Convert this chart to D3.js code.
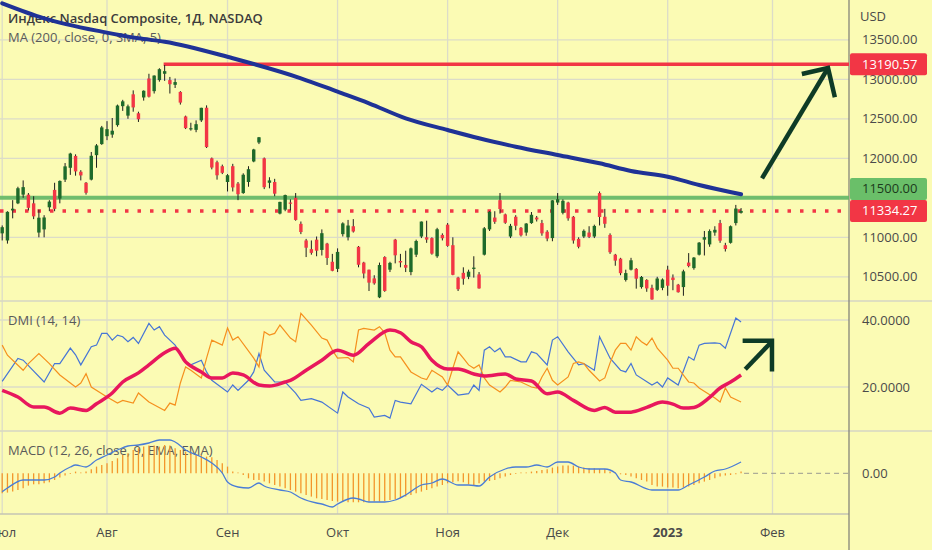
<!DOCTYPE html>
<html>
<head>
<meta charset="utf-8">
<script src="https://cdn.jsdelivr.net/npm/d3@7"></script>
<style>
  body { margin: 0; background: #fbfbb4; }
  svg { display: block; font-family: "Open Sans", "Noto Sans", sans-serif; }
</style>
</head>
<body>
<script>
// Nasdaq Composite daily, Jul 2022 - Jan 2023, with MA200, DMI and MACD panes

const dates = [
  "2022-07-01","2022-07-05","2022-07-06","2022-07-07","2022-07-08","2022-07-11","2022-07-12","2022-07-13","2022-07-14","2022-07-15",
  "2022-07-18","2022-07-19","2022-07-20","2022-07-21","2022-07-22","2022-07-25","2022-07-26","2022-07-27","2022-07-28","2022-07-29",
  "2022-08-01","2022-08-02","2022-08-03","2022-08-04","2022-08-05","2022-08-08","2022-08-09","2022-08-10","2022-08-11","2022-08-12",
  "2022-08-15","2022-08-16","2022-08-17","2022-08-18","2022-08-19","2022-08-22","2022-08-23","2022-08-24","2022-08-25","2022-08-26",
  "2022-08-29","2022-08-30","2022-08-31",
  "2022-09-01","2022-09-02","2022-09-06","2022-09-07","2022-09-08","2022-09-09","2022-09-12","2022-09-13","2022-09-14","2022-09-15",
  "2022-09-16","2022-09-19","2022-09-20","2022-09-21","2022-09-22","2022-09-23","2022-09-26","2022-09-27","2022-09-28","2022-09-29","2022-09-30",
  "2022-10-03","2022-10-04","2022-10-05","2022-10-06","2022-10-07","2022-10-10","2022-10-11","2022-10-12","2022-10-13","2022-10-14",
  "2022-10-17","2022-10-18","2022-10-19","2022-10-20","2022-10-21","2022-10-24","2022-10-25","2022-10-26","2022-10-27","2022-10-28","2022-10-31",
  "2022-11-01","2022-11-02","2022-11-03","2022-11-04","2022-11-07","2022-11-08","2022-11-09","2022-11-10","2022-11-11","2022-11-14",
  "2022-11-15","2022-11-16","2022-11-17","2022-11-18","2022-11-21","2022-11-22","2022-11-23","2022-11-25","2022-11-28","2022-11-29","2022-11-30",
  "2022-12-01","2022-12-02","2022-12-05","2022-12-06","2022-12-07","2022-12-08","2022-12-09","2022-12-12","2022-12-13","2022-12-14",
  "2022-12-15","2022-12-16","2022-12-19","2022-12-20","2022-12-21","2022-12-22","2022-12-23","2022-12-27","2022-12-28","2022-12-29","2022-12-30",
  "2023-01-03","2023-01-04","2023-01-05","2023-01-06","2023-01-09","2023-01-10","2023-01-11","2023-01-12","2023-01-13","2023-01-17",
  "2023-01-18","2023-01-19","2023-01-20","2023-01-23","2023-01-24"
];

const opens = [
  11050,10960,11340,11430,11540,11540,11430,11060,11100,11380,11600,11490,11730,11880,12030,11830,11690,11730,12040,12180,
  12280,12300,12420,12660,12540,12810,12570,12770,13010,12850,12990,13070,12990,12930,12840,12530,12380,12360,12480,12640,12000,11950,11900,
  11700,11900,11680,11560,11700,11960,12200,12000,11690,11700,11300,11350,11440,11500,11170,10960,10850,10970,10840,10920,10690,
  10600,11040,11000,11140,10880,10680,10590,10480,10240,10750,10590,10970,10700,10650,10560,10780,11010,11000,10990,10760,11030,
  11160,10900,10490,10550,10500,10600,10530,10780,11100,11250,11470,11290,11010,11260,11120,11060,11180,11250,11180,11070,10990,
  11440,11310,11440,11260,10980,11010,11060,11010,11560,11260,11030,10780,10730,10460,10590,10600,10370,10460,10360,10335,10360,
  10590,10490,10400,10370,10680,10610,10780,10970,10910,11060,11180,10900,10930,11180,11310
];
const highs = [
  11150,11330,11470,11640,11720,11560,11520,11350,11280,11470,11690,11720,11940,12070,12050,11850,11700,12080,12180,12410,
  12470,12510,12680,12740,12680,12860,12590,12860,13070,13050,13140,13180,13030,13010,12850,12540,12450,12480,12640,12670,12010,11970,11920,
  11800,11930,11700,11810,11900,12120,12270,12010,11760,11740,11450,11540,11480,11560,11200,10980,10960,11010,11100,10930,10790,
  10860,11190,11220,11230,10890,10690,10590,10520,10680,10760,10690,10980,10790,10830,10870,10970,11200,11210,11000,11120,11050,
  11180,11000,10500,10620,10590,10760,10560,11130,11330,11330,11560,11300,11170,11280,11130,11180,11320,11270,11220,11090,11470,
  11560,11480,11450,11270,11000,11100,11140,11160,11580,11360,11050,10790,10740,10590,10740,10610,10510,10470,10400,10500,10480,
  10640,10530,10410,10590,10800,10750,10940,11080,11100,11140,11220,10930,11150,11410,11370
];
const lows = [
  10960,10920,11240,11420,11500,11340,11230,11000,11000,11330,11330,11430,11700,11790,11780,11720,11540,11720,11880,12170,
  12230,12260,12400,12600,12500,12590,12460,12730,12770,12820,12970,12980,12820,12890,12680,12370,12350,12330,12460,12130,11860,11730,11800,
  11580,11580,11470,11550,11640,11950,12180,11610,11620,11520,11290,11330,11340,11210,11040,10750,10780,10760,10770,10650,10570,
  10560,11010,10960,11060,10620,10480,10320,10400,10230,10310,10560,10670,10620,10560,10520,10750,10990,10930,10780,10740,10960,
  10880,10520,10320,10400,10470,10490,10350,10770,11080,11170,11300,11170,10990,11090,11010,11020,11170,11200,11020,10950,10950,
  11410,11290,11210,10920,10860,10990,10990,10990,11150,11120,10790,10640,10520,10440,10580,10350,10350,10310,10210,10320,10330,
  10260,10330,10300,10260,10620,10590,10770,10770,10880,11020,10930,10820,10920,11150,11300
];
const closes = [
  11128,11322,11362,11621,11635,11373,11265,11248,11251,11452,11360,11713,11898,12060,11834,11783,11563,12032,12163,12391,
  12369,12349,12668,12721,12658,12644,12494,12855,12780,13047,13128,13103,12938,12965,12705,12382,12381,12432,12639,12142,11883,11785,11816,
  11786,11631,11545,11792,11862,12112,12266,11634,11720,11552,11448,11535,11425,11220,11067,10868,10803,10830,11052,10738,10576,
  10815,11176,11149,11073,10652,10542,10426,10417,10649,10321,10676,10772,10681,10615,10860,10953,11199,10971,10793,11102,10988,
  10891,10525,10343,10475,10565,10616,10353,11114,11323,11196,11358,11184,11145,11146,11025,11174,11285,11226,11050,10984,11468,
  11482,11462,11240,10959,10880,11082,11005,11144,11257,11171,10811,10705,10546,10547,10709,10476,10498,10353,10213,10478,10466,
  10387,10459,10305,10569,10636,10743,10932,11001,11079,11095,10957,10852,11140,11364,11334
];

// MA(200): [bar, value]
const ma200 = [
  [0,13962],[8,13772],[19,13603],[26,13519],[31,13476],[44,13266],[57,13013],[64,12843],[70,12696],[77,12506],
  [85,12358],[91,12253],[98,12147],[106,12042],[114,11937],[120,11839],[127,11767],[133,11662],[141,11544]
];

// DMI(14,14): [bar, value]
const plusDI = [
  [0,21.7],[3,28.5],[4,28],[8,21.5],[10,27],[11,27],[13,31.6],[14,29.6],[15,26.6],[17,32],[18,32.5],[19,36],[20,36],
  [21,34],[22,35.5],[23,35],[24,33.5],[25,34.8],[26,33],[28,39],[29,37],[30,38],[31,35.5],[33,32.5],[35,27.5],[36,26.6],
  [38,28],[39,24.5],[40,22],[43,18.5],[44,20.6],[45,19],[47,22],[48,24.5],[49,30],[50,25],[52,21.5],[54,21.5],[56,18.2],
  [57,16],[59,16.5],[61,15.5],[64,12.2],[65,18.5],[66,17],[68,15],[70,13.7],[71,11],[73,11.5],[74,10.7],[75,16],[76,15.5],
  [78,15],[80,20.8],[82,18.5],[83,19.7],[84,19],[85,20.6],[87,17.6],[89,18],[90,20.6],[91,19],[92,31],[93,32],[94,30.5],
  [95,31.6],[96,29],[97,29],[99,27.5],[100,27.5],[101,30.5],[102,30],[104,26.6],[105,34],[106,35],[108,30.5],[110,26.6],
  [111,27],[113,25],[114,35],[116,28.6],[118,25],[119,24.5],[120,27],[121,23.6],[124,20.6],[125,21.5],[126,20],[127,22.7],
  [129,20.6],[131,29],[132,28],[133,32.5],[134,33],[136,33.2],[137,33],[138,31.6],[140,40.6],[141,39.4]
];
const minusDI = [
  [0,32.5],[1,29.5],[4,25],[5,27],[7,30],[9,27],[11,23.6],[14,20],[15,21.2],[16,24],[17,20],[20,17],[22,15.2],[23,16],
  [25,15.2],[26,18.2],[28,15.5],[31,13],[32,15.2],[33,14.6],[34,21.2],[35,26],[36,25],[38,22.7],[39,28.6],[40,34],[42,32.5],
  [43,37.6],[44,34],[45,35],[48,28.6],[49,26],[50,36.5],[51,35.5],[52,36],[53,38.5],[55,34.6],[56,33.5],[57,42],[59,38.5],
  [61,34.6],[62,34],[63,31],[64,28.6],[66,28.8],[67,27.5],[68,37],[69,37.5],[71,37],[72,38],[73,36.2],[74,31],[75,29],
  [76,29],[78,24.5],[80,22.7],[81,22.2],[82,25],[84,23],[85,20.6],[86,25.6],[87,30.5],[88,28.6],[89,26.6],[90,25.6],[91,26.6],
  [92,22.7],[93,20.6],[95,18.5],[96,20],[97,22],[99,21.5],[101,20],[102,19.7],[103,23],[104,25.6],[105,22],[106,20.6],
  [108,23],[109,27],[110,27.5],[111,27],[112,25],[114,21.8],[115,22.7],[116,27.2],[117,31],[118,33],[119,33],[120,31],
  [121,35],[122,33.5],[123,32.5],[124,34.6],[125,31.6],[127,28],[128,25.6],[129,25.6],[131,21.5],[132,21.2],[133,19.7],
  [136,16.7],[137,15.5],[138,19.7],[139,17],[141,15.5]
];
const adx = [
  [0,19],[3,17],[6,14],[8,14],[11,12.2],[13,13.7],[16,13],[18,15],[21,18.2],[23,21.5],[26,24.2],[28,26.6],[31,30.2],
  [33,31.6],[35,27.5],[38,24.5],[40,22.7],[42,22.7],[44,24.2],[46,23.6],[49,20.6],[51,20.3],[54,21.5],[55,22],[58,25],
  [61,28],[64,31],[67,29.5],[70,33],[74,37],[76,36.2],[78,33.5],[80,32],[82,28],[85,25.4],[87,25.4],[90,23.9],[92,23.3],
  [96,23.9],[98,22.4],[101,21.8],[104,18],[106,18.5],[109,16],[113,13],[115,13.9],[117,12.5],[120,12.5],[123,13.9],
  [126,15.5],[128,14.9],[130,13.7],[132,13.9],[135,16.9],[137,19.7],[139,21.5],[141,23.6]
];

// MACD(12,26,9) line: [bar, value]
const macdLine = [
  [0,-184],[1,-147],[4,-67],[6,-67],[8,-67],[10,-37],[11,3],[13,63],[14,83],[16,63],[18,133],[20,183],[22,233],[24,273],
  [26,283],[28,303],[30,333],[32,333],[33,313],[35,233],[38,163],[40,103],[42,3],[43,-87],[45,-137],[47,-147],[49,-97],
  [50,-127],[53,-167],[55,-187],[57,-247],[60,-297],[61,-307],[63,-337],[64,-307],[67,-247],[68,-257],[70,-287],[73,-287],
  [75,-267],[77,-217],[80,-117],[82,-97],[84,-57],[87,-117],[89,-117],[91,-127],[93,-37],[96,43],[98,63],[100,63],[102,83],
  [104,63],[106,113],[108,113],[110,63],[112,43],[115,43],[117,3],[118,-67],[120,-87],[124,-167],[127,-167],[129,-167],
  [131,-117],[134,-37],[136,23],[138,43],[141,113]
];
// MACD histogram, one value per bar
const macdHist = [
  -200,-193,-183,-167,-150,-123,-110,-110,-100,-90,-67,-43,-23,-7,17,7,17,40,67,83,
  100,123,150,183,200,233,250,267,277,277,267,283,277,250,233,217,200,183,183,167,160,133,100,
  67,17,0,-17,-50,-67,-67,-83,-100,-117,-133,-150,-167,-183,-200,-217,-233,-250,-257,-267,-277,
  -283,-283,-290,-290,-290,-290,-283,-283,-283,-277,-267,-257,-250,-233,-217,-200,-183,-167,-150,-133,-117,
  -100,-90,-80,-90,-110,-117,-100,-83,-77,-67,-50,-33,-17,-7,2,7,17,23,33,40,57,
  67,77,77,77,67,57,50,50,43,43,17,0,-10,-17,-33,-50,-67,-83,-117,-133,-133,
  -143,-143,-150,-143,-133,-117,-100,-83,-67,-50,-33,-23,-17,-10,17
];

const priceTicks = [10500, 11000, 11500, 12000, 12500, 13000, 13500];
const dmiTicks = [20, 40];
const monthBars = [0, 20, 43, 64, 85, 106, 127, 147];
const monthLabels = ["Июл", "Авг", "Сен", "Окт", "Ноя", "Дек", "2023", "Фев"];

const resistance = 11500, peak = 13190.57, peakBar = 31, lastClose = 11334.27;

// arrows drawn by the author: [bar, value] pairs
const priceArrow = [[145, 11747], [157.6, 13143]];
const priceArrowHead = [[152.6, 13067], [157.6, 13143], [158.9, 12772]];
const dmiArrow = [[141.8, 25.3], [146.9, 33.6]];
const dmiArrowHead = [[141.3, 33.8], [146.9, 33.8], [146.9, 24.6]];

// ---- layout
const W = 932, H = 550, axisX = 849;
const mainTop = 0, mainBot = 301, dmiBot = 431, macdBot = 514;
const gridCol = "#dcdcc8";

const svg = d3.select("body").append("svg").attr("width", W).attr("height", H);
svg.append("rect").attr("width", W).attr("height", H).attr("fill", "#fbfbb4");

const x = d3.scaleLinear().domain([0, 147]).range([2.2, 772.5]);
const yP = d3.scaleLinear().domain([10500, 13500]).range([276.8, 39.8]);
const yD = d3.scaleLinear().domain([20, 40]).range([387, 320]);
const yM = d3.scaleLinear().domain([0, 300]).range([473.3, 443.3]);

const defs = svg.append("defs");
function clip(id, y0, y1) {
  defs.append("clipPath").attr("id", id).append("rect")
    .attr("x", 0).attr("y", y0).attr("width", axisX).attr("height", y1 - y0);
}
clip("cMain", mainTop, mainBot);
clip("cDmi", mainBot, dmiBot);
clip("cMacd", dmiBot, macdBot);

// ---- grid
const grid = svg.append("g");
grid.selectAll(".vg").data(monthBars).join("line")
  .attr("x1", d => x(d)).attr("x2", d => x(d)).attr("y1", 0).attr("y2", macdBot)
  .attr("stroke", gridCol).attr("stroke-width", 1.3);
grid.selectAll(".hp").data(priceTicks).join("line")
  .attr("x1", 0).attr("x2", axisX).attr("y1", d => yP(d)).attr("y2", d => yP(d))
  .attr("stroke", gridCol).attr("stroke-width", 1.3);
grid.selectAll(".hd").data(dmiTicks).join("line")
  .attr("x1", 0).attr("x2", axisX).attr("y1", d => yD(d)).attr("y2", d => yD(d))
  .attr("stroke", gridCol).attr("stroke-width", 1.3);
[mainBot, dmiBot].forEach(yy => {
  svg.append("line").attr("x1", 0).attr("x2", W).attr("y1", yy).attr("y2", yy)
    .attr("stroke", "#d6d6c4").attr("stroke-width", 1.5);
});
svg.append("line").attr("x1", 0).attr("x2", axisX).attr("y1", macdBot).attr("y2", macdBot)
  .attr("stroke", "#c4c4b4").attr("stroke-width", 1.5);
svg.append("line").attr("x1", axisX).attr("x2", axisX).attr("y1", 0).attr("y2", H)
  .attr("stroke", "#85857a").attr("stroke-width", 1.3);

// ---- legends (series are drawn on top of them)
const legend = svg.append("g").attr("font-size", 13);
legend.append("text").attr("x", 8).attr("y", 23).attr("fill", "#3c3c3c").attr("font-weight", 600)
  .text("Индекс Nasdaq Composite, 1Д, NASDAQ");
legend.append("text").attr("x", 8).attr("y", 42).attr("fill", "#5a5a5a").text("MA (200, close, 0, SMA, 5)");
legend.append("text").attr("x", 8).attr("y", 325).attr("fill", "#5a5a5a").text("DMI (14, 14)");
legend.append("text").attr("x", 8).attr("y", 455).attr("fill", "#5a5a5a").text("MACD (12, 26, close, 9, EMA, EMA)");

// ---- main pane
const main = svg.append("g").attr("clip-path", "url(#cMain)");
main.append("line").attr("x1", 0).attr("x2", axisX).attr("y1", yP(resistance)).attr("y2", yP(resistance))
  .attr("stroke", "#63b866").attr("stroke-width", 4).attr("opacity", 0.9);
main.append("line").attr("x1", x(peakBar) - 1).attr("x2", axisX).attr("y1", yP(peak)).attr("y2", yP(peak))
  .attr("stroke", "#f23645").attr("stroke-width", 3.5);
main.append("line").attr("x1", 0).attr("x2", axisX).attr("y1", yP(lastClose)).attr("y2", yP(lastClose))
  .attr("stroke", "#f23645").attr("stroke-width", 3.5).attr("stroke-dasharray", "3.5,9");

const bars = dates.map((d, i) => ({ i, o: opens[i], h: highs[i], l: lows[i], c: closes[i] }));
const bodyW = 3.4;
main.selectAll(".wick").data(bars).join("line")
  .attr("x1", d => x(d.i)).attr("x2", d => x(d.i))
  .attr("y1", d => yP(d.h)).attr("y2", d => yP(d.l))
  .attr("stroke", "#1d1d1d").attr("stroke-width", 1);
main.selectAll(".body").data(bars).join("rect")
  .attr("x", d => x(d.i) - bodyW / 2).attr("width", bodyW)
  .attr("y", d => yP(Math.max(d.o, d.c)))
  .attr("height", d => Math.max(1.2, Math.abs(yP(d.o) - yP(d.c))))
  .attr("fill", d => d.c >= d.o ? "#1e6a2a" : "#f23645");

main.append("path").datum(ma200)
  .attr("d", d3.line().x(d => x(d[0])).y(d => yP(d[1])).curve(d3.curveMonotoneX))
  .attr("fill", "none").attr("stroke", "#1f3296").attr("stroke-width", 4).attr("stroke-linecap", "round");

const arrowCol = "#0e3b26";
const pLine = d3.line().x(d => x(d[0])).y(d => yP(d[1]));
svg.append("path").attr("d", pLine(priceArrow)).attr("stroke", arrowCol).attr("stroke-width", 4.5).attr("fill", "none");
svg.append("path").attr("d", pLine(priceArrowHead)).attr("stroke", arrowCol).attr("stroke-width", 4.5)
  .attr("fill", "none").attr("stroke-linejoin", "miter");

// ---- DMI pane
const dmi = svg.append("g").attr("clip-path", "url(#cDmi)");
const dLine = d3.line().x(d => x(d[0])).y(d => yD(d[1]));
dmi.append("path").attr("d", dLine(plusDI)).attr("fill", "none").attr("stroke", "#4675d6").attr("stroke-width", 1.2);
dmi.append("path").attr("d", dLine(minusDI)).attr("fill", "none").attr("stroke", "#f5901e").attr("stroke-width", 1.2);
dmi.append("path").attr("d", dLine.curve(d3.curveMonotoneX)(adx)).attr("fill", "none")
  .attr("stroke", "#e8175d").attr("stroke-width", 3.5).attr("stroke-linejoin", "round");
const dLine2 = d3.line().x(d => x(d[0])).y(d => yD(d[1]));
svg.append("path").attr("d", dLine2(dmiArrow)).attr("stroke", arrowCol).attr("stroke-width", 4.5).attr("fill", "none");
svg.append("path").attr("d", dLine2(dmiArrowHead)).attr("stroke", arrowCol).attr("stroke-width", 4.5)
  .attr("fill", "none").attr("stroke-linejoin", "miter");

// ---- MACD pane
const macd = svg.append("g").attr("clip-path", "url(#cMacd)");
macd.append("line").attr("x1", x(dates.length - 1) + 3).attr("x2", axisX)
  .attr("y1", yM(0)).attr("y2", yM(0)).attr("stroke", "#9a9a90").attr("stroke-dasharray", "5,4");
macd.selectAll(".hist").data(macdHist).join("line")
  .attr("x1", (d, i) => x(i)).attr("x2", (d, i) => x(i))
  .attr("y1", yM(0)).attr("y2", d => Math.abs(d) < 4 ? yM(0) - 0.8 : yM(d))
  .attr("stroke", "#f3962b").attr("stroke-width", 1.3);
macd.append("path").datum(macdLine)
  .attr("d", d3.line().x(d => x(d[0])).y(d => yM(d[1])).curve(d3.curveMonotoneX))
  .attr("fill", "none").attr("stroke", "#4a7dd6").attr("stroke-width", 1.3);

// price labels, pushed apart when they overlap
const boxH = 22;
const tags = [
  { v: peak, fill: "#f23645", txt: "#ffffff" },
  { v: resistance, fill: "#6abf69", txt: "#1c3a1c" },
  { v: lastClose, fill: "#f23645", txt: "#ffffff" }
].map(t => ({ ...t, cy: yP(t.v) }));
tags.sort((a, b) => a.cy - b.cy);
for (let k = tags.length - 1; k > 0; k--) {
  if (tags[k].cy - tags[k - 1].cy < boxH) tags[k - 1].cy = tags[k].cy - boxH;
}

// ---- right axis (tick labels hidden under a price tag are skipped)
const ax = svg.append("g").attr("font-size", 13).attr("fill", "#4a4a4a");
ax.append("text").attr("x", 860).attr("y", 21).text("USD");
ax.selectAll(".pt").data(priceTicks.filter(p => tags.every(t => Math.abs(t.cy - yP(p)) > 9))).join("text")
  .attr("x", 862).attr("y", d => yP(d)).attr("dy", "0.35em").text(d => d.toFixed(2));
ax.selectAll(".dt").data(dmiTicks).join("text")
  .attr("x", 862).attr("y", d => yD(d)).attr("dy", "0.35em").text(d => d.toFixed(4));
ax.append("text").attr("x", 862).attr("y", yM(0)).attr("dy", "0.35em").text("0.00");

const tg = svg.append("g").selectAll("g").data(tags).join("g");
tg.append("rect").attr("x", axisX + 1).attr("y", d => d.cy - boxH / 2).attr("width", 77).attr("height", boxH)
  .attr("rx", 2).attr("fill", d => d.fill);
tg.append("text").attr("x", 862).attr("y", d => d.cy).attr("dy", "0.35em").attr("font-size", 13)
  .attr("fill", d => d.txt).text(d => d.v.toFixed(2));

// ---- time axis
svg.append("g").selectAll("text").data(monthBars).join("text")
  .attr("x", d => x(d)).attr("y", 532).attr("dy", "0.35em").attr("text-anchor", "middle")
  .attr("font-size", 13).attr("fill", "#4a4a4a")
  .attr("font-weight", (d, i) => monthLabels[i] === "2023" ? 700 : 400)
  .text((d, i) => monthLabels[i]);
</script>
</body>
</html>
